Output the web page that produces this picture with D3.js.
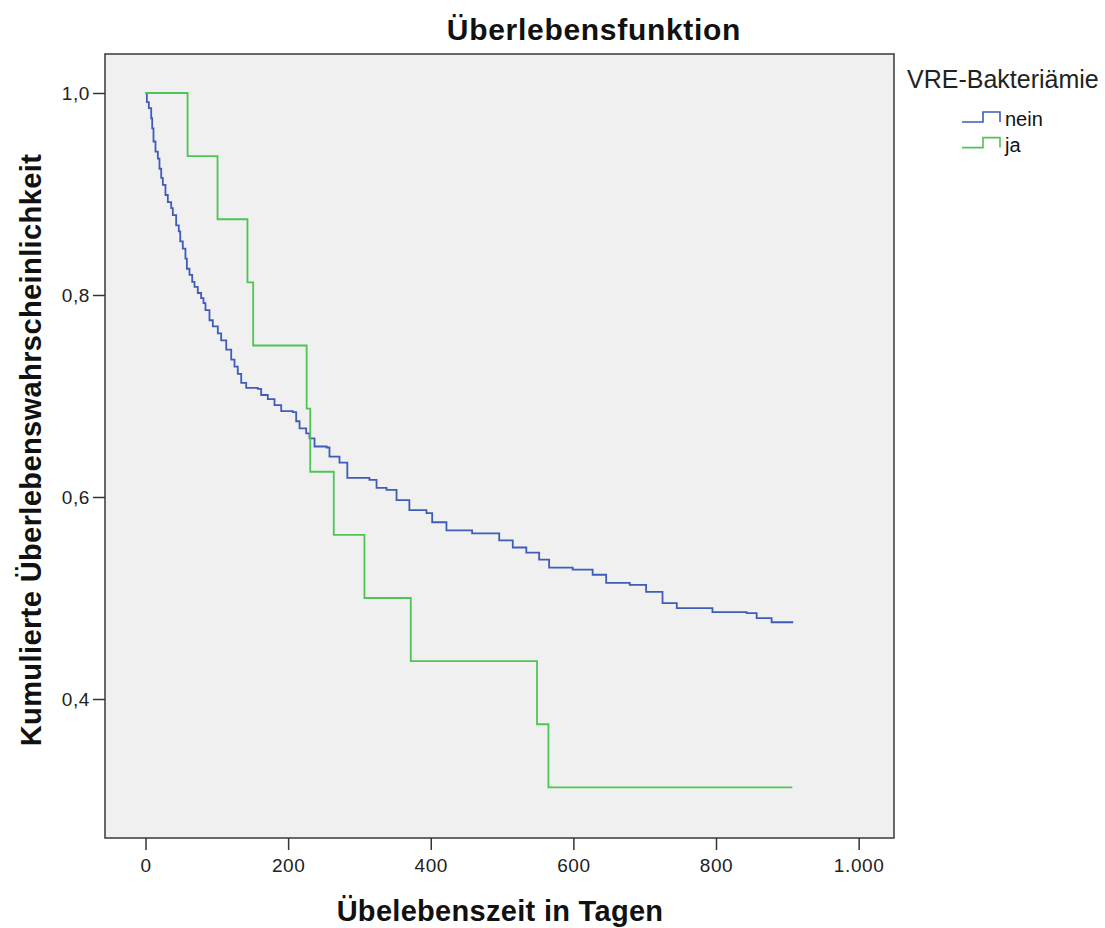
<!DOCTYPE html>
<html>
<head>
<meta charset="utf-8">
<script src="https://cdn.jsdelivr.net/npm/d3@7"></script>
<style>
  body { margin: 0; background: #fff; }
  svg text { font-family: "Liberation Sans", Arial, sans-serif; }
</style>
</head>
<body>
<svg id="chart" width="1105" height="928"></svg>
<script>
// Kaplan-Meier steps
let neinDays = [0, 1.9, 4.7, 8, 9.4, 11.2, 14, 17.3, 19.6, 22, 24.3, 28, 31.3, 36, 38.3, 43, 46.7, 48.7, 52.3, 56, 58,
    61.7, 65.5, 68.7, 73.3, 78, 81.3, 84.1, 89.7, 94.4, 101.4, 106.1, 113.2, 120.2, 124.8, 129.4, 134.2, 141.2,
    157.5, 162.2, 171.5, 180.9, 190.3, 206.5, 211.3, 216, 225.3, 230, 237, 254, 258, 272, 283, 314, 324, 338, 352,
    370, 394, 402, 422, 458, 496, 515, 534, 552, 566, 599, 627, 646, 679, 702, 725, 745, 795, 843, 857, 878, 907];
let neinSurv = [1, 0.991, 0.985, 0.975, 0.965, 0.952, 0.942, 0.935, 0.925, 0.916, 0.909, 0.899, 0.892, 0.886, 0.879,
    0.869, 0.863, 0.853, 0.846, 0.836, 0.826, 0.820, 0.813, 0.808, 0.802, 0.797, 0.792, 0.785, 0.775, 0.769, 0.762,
    0.755, 0.746, 0.736, 0.729, 0.722, 0.713, 0.708, 0.707, 0.701, 0.697, 0.691, 0.685, 0.684, 0.675, 0.668, 0.663,
    0.658, 0.650, 0.649, 0.640, 0.634, 0.619, 0.617, 0.609, 0.607, 0.597, 0.587, 0.584, 0.575, 0.567, 0.564, 0.557,
    0.550, 0.545, 0.538, 0.530, 0.528, 0.523, 0.515, 0.513, 0.506, 0.495, 0.490, 0.486, 0.485, 0.480, 0.476, 0.475];

let jaDays = [0, 59, 101, 143, 151, 226, 231, 264, 307, 372, 549, 565, 907];
let jaSurv = [1, 0.9375, 0.875, 0.8125, 0.75, 0.6875, 0.625, 0.5625, 0.5, 0.4375, 0.375, 0.3125, 0.3125];

let xTicks = [0, 200, 400, 600, 800, 1000];
let yTicks = [0.4, 0.6, 0.8, 1.0];

let groups = ["nein", "ja"];
let colors = ["#3f5cb8", "#4cc552"];

let svg = d3.select("#chart");

let plotL = 105, plotR = 894, plotT = 54, plotB = 838;

let x = d3.scaleLinear()
    .domain([-56.8, 1049.6])
    .range([plotL, plotR]);

let y = d3.scaleLinear()
    .domain([1 - (plotB - 93) / 1010, 1 + (93 - plotT) / 1010])
    .range([plotB, plotT]);

let fmtDE = d3.formatLocale({decimal: ",", thousands: ".", grouping: [3], currency: ["", " €"]});

// plot background
svg.append("rect")
    .attr("x", plotL).attr("y", plotT)
    .attr("width", plotR - plotL).attr("height", plotB - plotT)
    .attr("fill", "#f0f0f0");

// curves
let line = d3.line()
    .x(d => x(d[0]))
    .y(d => y(d[1]))
    .curve(d3.curveStepAfter);

let series = [d3.zip(neinDays, neinSurv), d3.zip(jaDays, jaSurv)];

series.forEach((s, i) => {
    svg.append("path")
        .datum(s)
        .attr("d", line)
        .attr("fill", "none")
        .attr("stroke", colors[i])
        .attr("stroke-width", 1.8);
});

// frame
svg.append("rect")
    .attr("x", plotL).attr("y", plotT)
    .attr("width", plotR - plotL).attr("height", plotB - plotT)
    .attr("fill", "none")
    .attr("stroke", "#444")
    .attr("stroke-width", 1.6);

// axes
let xAxis = d3.axisBottom(x)
    .tickValues(xTicks)
    .tickSize(12)
    .tickFormat(d => fmtDE.format(",")(d));

let yAxis = d3.axisLeft(y)
    .tickValues(yTicks)
    .tickSize(12)
    .tickFormat(d => fmtDE.format(".1f")(d));

let gx = svg.append("g")
    .attr("transform", `translate(0,${plotB})`)
    .call(xAxis);

let gy = svg.append("g")
    .attr("transform", `translate(${plotL},0)`)
    .call(yAxis);

[gx, gy].forEach(g => {
    g.select(".domain").remove();
    g.selectAll(".tick line").attr("stroke", "#333").attr("stroke-width", 1.5);
    g.selectAll(".tick text")
        .attr("fill", "#222")
        .style("font-size", "19px")
        .style("letter-spacing", "0.6px")
        .style("font-family", "'Liberation Sans', Arial, sans-serif");
});
gx.selectAll(".tick text").attr("y", 21).attr("dy", "0.71em");
gy.selectAll(".tick text").attr("x", -15);

// titles
svg.append("text")
    .attr("x", 594).attr("y", 40)
    .attr("text-anchor", "middle")
    .style("font-size", "30px")
    .style("font-weight", "bold")
    .style("letter-spacing", "0.7px")
    .attr("fill", "#111")
    .text("Überlebensfunktion");

svg.append("text")
    .attr("x", 500).attr("y", 921)
    .attr("text-anchor", "middle")
    .style("font-size", "29px")
    .style("font-weight", "bold")
    .style("letter-spacing", "0.3px")
    .attr("fill", "#111")
    .text("Übelebenszeit in Tagen");

svg.append("text")
    .attr("transform", "translate(41,450) rotate(-90)")
    .attr("text-anchor", "middle")
    .style("font-size", "29px")
    .style("font-weight", "bold")
    .style("letter-spacing", "0.4px")
    .attr("fill", "#111")
    .text("Kumulierte Überlebenswahrscheinlichkeit");

// legend
svg.append("text")
    .attr("x", 907).attr("y", 88)
    .style("font-size", "25px")
    .attr("fill", "#222")
    .text("VRE-Bakteriämie");

groups.forEach((g, i) => {
    let ly = 122 + i * 25.6;
    svg.append("path")
        .attr("d", `M962,${ly} H983 V${ly - 10} H1000 V${ly}`)
        .attr("fill", "none")
        .attr("stroke", colors[i])
        .attr("stroke-width", 1.6);
    svg.append("text")
        .attr("x", 1005).attr("y", ly + 4)
        .style("font-size", "20px")
        .attr("fill", "#111")
        .text(g);
});
</script>
</body>
</html>
